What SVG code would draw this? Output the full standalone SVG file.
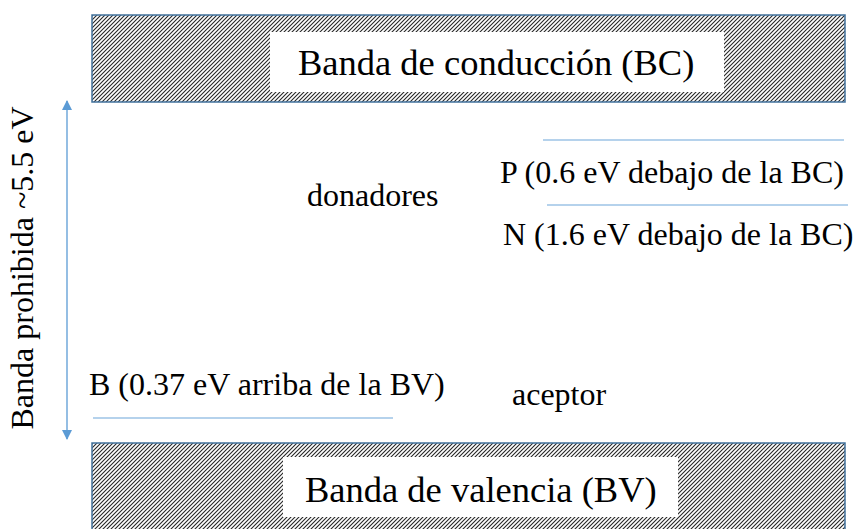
<svg xmlns="http://www.w3.org/2000/svg" width="863" height="529" viewBox="0 0 863 529">
<style>
text{font-family:"Liberation Serif","Times New Roman",serif;fill:#000}
.lbl{font-size:32px}
.title{font-size:36.5px}
.band{fill:url(#hatch);stroke:#41719c;stroke-width:1.5}
.inner{fill:#fff;stroke:none}
.lvl{stroke:#9dc3e6;stroke-width:1.3;fill:none}
.arr{stroke:#5b9bd5;stroke-width:1.3;fill:none}
</style>
<defs>
<pattern id="hatch" patternUnits="userSpaceOnUse" width="4" height="4">
<rect width="4" height="4" fill="#fff"/>
<path d="M-1,1 L1,-1 M0,4 L4,0 M3,5 L5,3" stroke="#262626" stroke-width="1.1"/>
</pattern>
<marker id="ah" viewBox="0 0 10 10" refX="9" refY="5" markerWidth="10" markerHeight="10" markerUnits="userSpaceOnUse" orient="auto-start-reverse">
<path d="M0,0 L10,5 L0,10 z" fill="#5b9bd5"/>
</marker>
</defs>
<g id="bc">
<rect class="band" x="92" y="15" width="753" height="87"/>
<rect class="inner" x="270" y="32" width="454" height="60"/>
<text class="title" x="298" y="75">Banda de conducción (BC)</text>
</g>
<g id="bv">
<rect class="band" x="92" y="443" width="753" height="100"/>
<rect class="inner" x="283" y="457" width="395" height="60"/>
<text class="title" x="305" y="502">Banda de valencia (BV)</text>
</g>
<g id="gap">
<text class="lbl" transform="translate(33,268) rotate(-90)" text-anchor="middle">Banda prohibida ~5.5 eV</text>
</g>
<g id="connectors">
<line class="arr" x1="67" y1="101" x2="67" y2="439" marker-start="url(#ah)" marker-end="url(#ah)"/>
</g>
<g id="levels">
<line class="lvl" x1="543" y1="140" x2="844" y2="140"/>
<line class="lvl" x1="547" y1="205" x2="848" y2="205"/>
<line class="lvl" x1="93" y1="418" x2="393" y2="418"/>
</g>
<g id="labels">
<text class="lbl" x="307" y="206">donadores</text>
<text class="lbl" x="500" y="183">P (0.6 eV debajo de la BC)</text>
<text class="lbl" x="503" y="245">N (1.6 eV debajo de la BC)</text>
<text class="lbl" x="89" y="395">B (0.37 eV arriba de la BV)</text>
<text class="lbl" x="512" y="405">aceptor</text>
</g>
</svg>
